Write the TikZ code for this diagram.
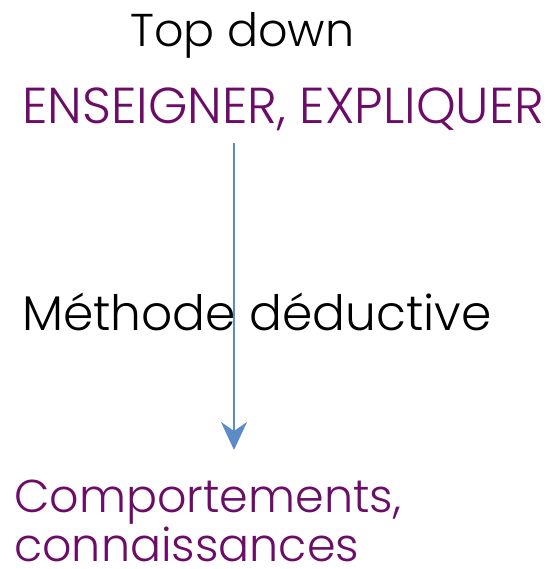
\documentclass[tikz,border=0pt]{standalone}
\usepackage{fontspec}
\setmainfont{Poppins}[UprightFont=* Light]
\usetikzlibrary{arrows.meta}
\definecolor{prune}{RGB}{108,12,104}
\definecolor{fleche}{RGB}{92,140,200}
\tikzset{
  titre/.style={anchor=base west, inner sep=0pt, font=\fontsize{48}{52}\selectfont},
  mot/.style={titre, text=prune},
  petit/.style={font=\fontsize{46}{50}\selectfont}
}

\begin{document}
\begin{tikzpicture}[x=1pt,y=-1pt]
    % page frame
    \useasboundingbox (0,0) rectangle (551,569);
    % labels
    \node[titre, petit] (top) at (130,47) {Top down};
    \node[mot, font=\fontsize{50.5}{54}\selectfont] (ens) at (22,124) {ENSEIGNER, EXPLIQUER};
    \node[titre, font=\fontsize{48.7}{52}\selectfont] (meth) at (22,330) {Méthode déductive};
    \node[mot, petit] (comp) at (14,512) {Comportements,};
    \node[mot, petit] (conn) at (14,561) {connaissances};
    % the downward arrow
    \coordinate (debut) at (234,143);
    \coordinate (fin) at (234,450);
    \draw[fleche, line width=2pt, -{Stealth[length=28pt, width=26pt, inset=9pt]}] (debut) -- (fin);
\end{tikzpicture}
\end{document}
